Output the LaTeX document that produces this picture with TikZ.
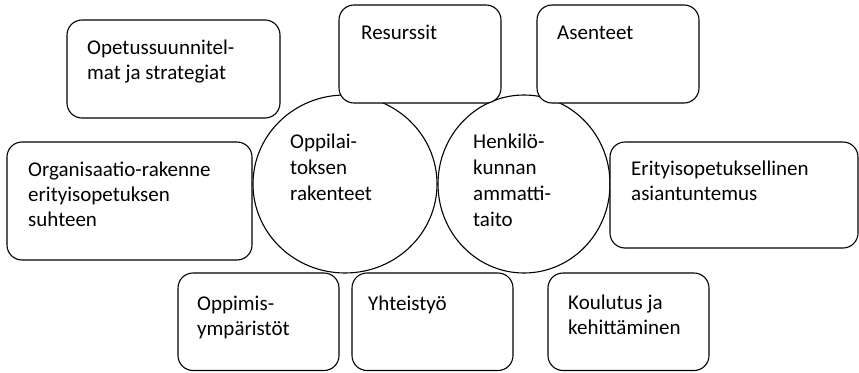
\documentclass[tikz,border=0pt]{standalone}
\usepackage{fontspec}
\setmainfont{Carlito}
\usetikzlibrary{shapes.geometric,calc}
\tikzset{
  boxshape/.style={draw=black, line width=1.1pt, fill=white, rounded corners=15pt, inner sep=0pt},
  ringshape/.style={draw=black, line width=1.1pt, ellipse, inner sep=0pt},
  boxtext/.style={anchor=base west, inner sep=0pt, font=\fontsize{21}{25}\selectfont},
  ringtext/.style={anchor=base west, inner sep=0pt, font=\fontsize{21}{26.3}\selectfont},
}
\newcommand{\rowsof}[1]{\begin{tabular}[t]{@{}l@{}}#1\end{tabular}}
\begin{document}
\begin{tikzpicture}[x=1pt,y=-1pt]
\useasboundingbox (0,0) rectangle (859,372);
\fill[white] (0,0) rectangle (859,372);
% circles
\node[ringshape, minimum width=184pt, minimum height=178pt] (c1) at (345,184) {};
\node[ringshape, minimum width=172pt, minimum height=178pt] (c2) at (524,184) {};
% boxes
\draw[boxshape] (67,20) rectangle (280,118) node[pos=0.5] (b1) {};
\draw[boxshape] (339,5) rectangle (501,103) node[pos=0.5] (b2) {};
\draw[boxshape] (537,5) rectangle (699,103) node[pos=0.5] (b3) {};
\draw[boxshape] (7,142) rectangle (252,260) node[pos=0.5] (b4) {};
\draw[boxshape] (610,142) rectangle (858,248) node[pos=0.5] (b5) {};
\draw[boxshape] (178,273) rectangle (339,370.5) node[pos=0.5] (b6) {};
\draw[boxshape] (352,273) rectangle (513,370.5) node[pos=0.5] (b7) {};
\draw[boxshape] (548,273) rectangle (709,370.5) node[pos=0.5] (b8) {};
% texts
\node[boxtext] (t1) at (87,54) {\rowsof{Opetussuunnitel-\\mat ja strategiat}};
\node[boxtext] (t2) at (361,39) {\rowsof{Resurssit}};
\node[boxtext] (t3) at (557,39) {\rowsof{Asenteet}};
\node[boxtext] (t4) at (28,176) {\rowsof{Organisaatio-rakenne\\erityisopetuksen\\suhteen}};
\node[boxtext] (t5) at (631,175) {\rowsof{Erityisopetuksellinen\\asiantuntemus}};
\node[boxtext] (t6) at (197,310) {\rowsof{Oppimis-\\ympäristöt}};
\node[boxtext] (t7) at (368,310) {\rowsof{Yhteistyö}};
\node[boxtext] (t8) at (568,309) {\rowsof{Koulutus ja\\kehittäminen}};
\node[ringtext] (t9) at (290,148) {\rowsof{Oppilai-\\toksen\\rakenteet}};
\node[ringtext] (t10) at (473,148) {\rowsof{Henkilö-\\kunnan\\ammatti-\\taito}};
\end{tikzpicture}
\end{document}
